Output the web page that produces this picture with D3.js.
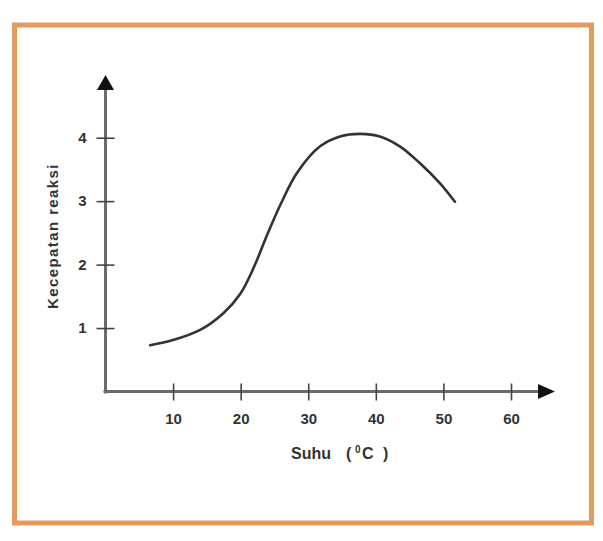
<!DOCTYPE html>
<html>
<head>
<meta charset="utf-8">
<script src="https://cdn.jsdelivr.net/npm/d3@7"></script>
<style>
  html, body { margin: 0; padding: 0; background: #fff; }
  svg { display: block; }
  .tick text { font-family: "Liberation Sans", Arial, sans-serif; font-weight: bold; font-size: 15px; fill: #333; }
  .title { font-family: "Liberation Sans", Arial, sans-serif; font-weight: bold; fill: #333; }
</style>
</head>
<body>
<div id="chart"></div>
<script>
// Data
const suhu = [6.6, 10, 14, 17.4, 20, 22, 24, 26, 28.3, 31.7, 34.7, 37.7, 40.6, 43.6, 46.5, 49.5, 51.7];
const kecepatan = [0.73, 0.81, 0.97, 1.23, 1.55, 1.97, 2.49, 2.97, 3.44, 3.86, 4.02, 4.06, 4.02, 3.86, 3.60, 3.28, 2.99];
const xTicks = [10, 20, 30, 40, 50, 60];
const yTicks = [1, 2, 3, 4];

const data = suhu.map((s, i) => ({ suhu: s, k: kecepatan[i] }));

const svgWidth = 603;
const svgHeight = 541;

const svg = d3.select("#chart")
  .append("svg")
  .attr("width", svgWidth)
  .attr("height", svgHeight);

// Orange frame
svg.append("rect")
  .attr("x", 14.5)
  .attr("y", 25)
  .attr("width", 577)
  .attr("height", 498)
  .attr("fill", "#fff")
  .attr("stroke", "#e39a5c")
  .attr("stroke-width", 5);

// Scales
const x = d3.scaleLinear().domain([0, 60]).range([105.5, 511]);
const y = d3.scaleLinear().domain([0, 4]).range([391.5, 137.7]);

const axisColor = "#6b6b6b";

// Axis lines with arrow heads
svg.append("line")
  .attr("x1", x(0)).attr("y1", y(0) + 2)
  .attr("x2", x(0)).attr("y2", y(4.78))
  .attr("stroke", axisColor).attr("stroke-width", 3);

svg.append("line")
  .attr("x1", x(0) - 2).attr("y1", y(0))
  .attr("x2", x(64.2)).attr("y2", y(0))
  .attr("stroke", axisColor).attr("stroke-width", 3);

// y arrow
svg.append("path")
  .attr("d", `M${x(0) - 8.5},${y(4.75)} L${x(0) + 8.5},${y(4.75)} L${x(0)},${y(4.99)} Z`)
  .attr("fill", "#111");

// x arrow
svg.append("path")
  .attr("d", `M${x(64)},${y(0) - 7.5} L${x(64)},${y(0) + 7.5} L${x(66.5)},${y(0)} Z`)
  .attr("fill", "#111");

// x axis ticks
const xAxis = d3.axisBottom(x).tickValues(xTicks).tickSize(0).tickPadding(0);
const gx = svg.append("g")
  .attr("transform", `translate(0, ${y(0)})`)
  .call(xAxis);
gx.select(".domain").remove();
gx.selectAll(".tick line")
  .attr("y1", -8).attr("y2", 9)
  .attr("stroke", "#444").attr("stroke-width", 1.6);
gx.selectAll(".tick text")
  .attr("y", 32)
  .attr("dy", 0);

// y axis ticks
const yAxis = d3.axisLeft(y).tickValues(yTicks).tickFormat(d3.format("d")).tickSize(0).tickPadding(0);
const gy = svg.append("g")
  .attr("transform", `translate(${x(0)}, 0)`)
  .call(yAxis);
gy.select(".domain").remove();
gy.selectAll(".tick line")
  .attr("x1", -9).attr("x2", 9)
  .attr("stroke", "#444").attr("stroke-width", 1.6);
gy.selectAll(".tick text")
  .attr("x", -19)
  .attr("dy", "0.3em");

// Curve
const line = d3.line()
  .x(d => x(d.suhu))
  .y(d => y(d.k))
  .curve(d3.curveCatmullRom.alpha(0.5));

svg.append("path")
  .datum(data)
  .attr("d", line)
  .attr("fill", "none")
  .attr("stroke", "#333")
  .attr("stroke-width", 2.6)
  .attr("stroke-linecap", "round");

// Axis titles
const xt = svg.append("text")
  .attr("class", "title")
  .attr("y", 459)
  .attr("font-size", 16);
xt.append("tspan").attr("x", 291).text("Suhu");
xt.append("tspan").attr("x", 346).text("(");
xt.append("tspan").attr("x", 355).attr("dy", -6).attr("font-size", 10).text("0");
xt.append("tspan").attr("x", 362).attr("dy", 6).text("C");
xt.append("tspan").attr("x", 383).text(")");

svg.append("text")
  .attr("class", "title")
  .attr("font-size", 15)
  .attr("letter-spacing", 1.4)
  .attr("text-anchor", "middle")
  .attr("transform", `translate(58, 236) rotate(-90)`)
  .text("Kecepatan reaksi");
</script>
</body>
</html>
